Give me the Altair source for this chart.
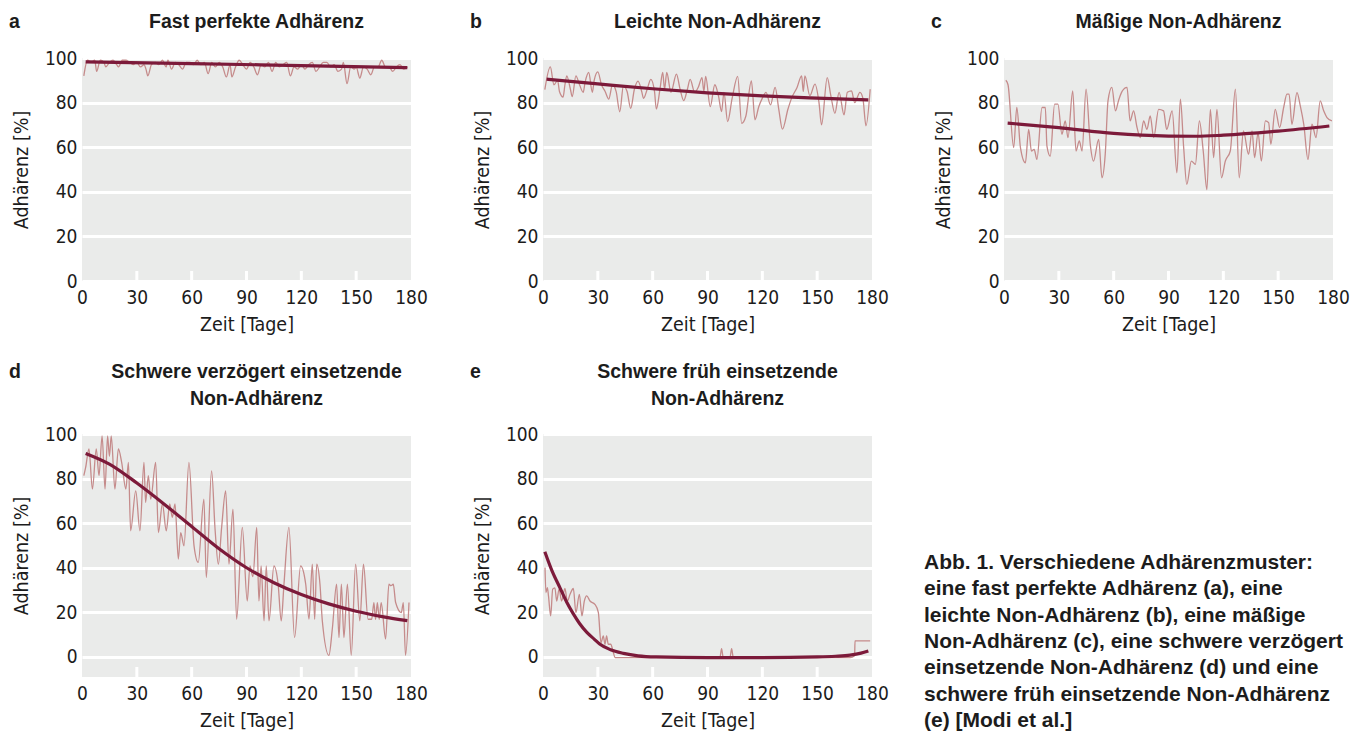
import altair as alt
import pandas as pd

# ---------------- data ----------------
X_TICKS = [0, 30, 60, 90, 120, 150, 180]
INNER_TICKS = [30, 60, 90, 120, 150]
Y_TICKS = [0, 20, 40, 60, 80, 100]

LETTERS = ["a", "b", "c", "d", "e"]
TITLES = [
    "Fast perfekte Adhärenz",
    "Leichte Non-Adhärenz",
    "Mäßige Non-Adhärenz",
    "Schwere verzögert einsetzende\nNon-Adhärenz",
    "Schwere früh einsetzende\nNon-Adhärenz",
]
CAPTION = ("Abb. 1. Verschiedene Adhärenzmuster:\n"
           "eine fast perfekte Adhärenz (a), eine\n"
           "leichte Non-Adhärenz (b), eine mäßige\n"
           "Non-Adhärenz (c), eine schwere verzögert\n"
           "einsetzende Non-Adhärenz (d) und eine\n"
           "schwere früh einsetzende Non-Adhärenz\n"
           "(e) [Modi et al.]")

A_DAYS = [1, 3, 5, 7, 8, 10, 12, 13, 15, 17, 19, 20, 22, 24, 26, 28, 30, 32, 34, 35,
          36, 38, 40, 42, 44, 46, 47, 49, 51, 53, 55, 57, 59, 61, 63, 65, 67, 69, 71, 73,
          75, 77, 79, 81, 82, 84, 86, 88, 90, 92, 94, 96, 98, 100, 102, 104, 106, 108, 110, 112,
          114, 116, 118, 120, 122, 124, 126, 128, 130, 132, 134, 136, 138, 140, 142, 143, 145, 147, 149, 150,
          152, 154, 156, 158, 160, 162, 164, 166, 168, 170, 172, 174, 176, 178]
A_VALS = [92, 99, 98, 99, 94, 99, 98, 96, 98, 99, 97, 96, 99, 99, 98, 97, 98, 96, 97, 95,
          92, 97, 98, 97, 99, 96, 99, 95, 98, 97, 95, 98, 98, 97, 99, 97, 98, 93, 98, 96,
          98, 96, 91.5, 97, 91.5, 96, 99, 97, 95, 98, 96, 92.5, 97, 96, 98, 94, 98, 96, 97, 98,
          92, 96, 95, 97, 95, 97, 98, 94, 96, 98, 98, 96, 97, 94, 95, 98, 88.5, 96, 95, 96,
          91, 96, 95, 92.5, 96, 96, 99, 96, 96, 94, 96, 97, 95, 96]

B_POINTS = [(1, 85.8), (4, 96), (6, 88), (8, 90), (9, 85), (11, 82.5), (12, 88), (13, 92), (15, 86),
            (16, 82.7), (18, 92), (20, 88), (22, 84.6), (23, 89), (25, 93.5), (27, 84.6), (28, 90),
            (30, 93.8), (32, 88), (34, 85), (36, 81.6), (38, 88), (40, 85), (42, 75.9), (44, 87.5),
            (46, 85), (48, 77.4), (50, 86), (52, 89.6), (54, 85), (55, 81.9), (57, 86), (59, 90.4),
            (61, 85), (62, 77.1), (64, 86), (65.5, 93.5), (66.5, 86), (67.7, 93.5), (70, 84.6),
            (73, 92.8), (75, 86), (77, 80.9), (79, 86), (80.5, 90.4), (83, 84.6), (85, 87), (87, 91.2),
            (88, 85), (89, 91.8), (91.5, 78.2), (94, 88), (96, 83), (97.7, 76), (99, 84.6), (101, 71.5),
            (103.5, 82), (106.5, 91.8), (108.7, 70.7), (111, 74), (114, 89.7), (116, 72.3), (118, 78),
            (120, 82), (122, 84.6), (124.5, 79), (127, 86.8), (129, 77), (131, 68.1), (134, 77),
            (136, 82), (139, 86.8), (141.5, 92), (142.4, 85), (143.3, 92), (146, 83.1), (148.8, 88.3),
            (151, 80), (152.4, 70), (155.5, 91.2), (157.5, 83), (159.7, 75.2), (162, 84.6),
            (164.7, 74.5), (166.5, 84.6), (168.8, 85.3), (170.5, 80), (173.4, 84.6), (175, 82),
            (176.7, 69.6), (179, 86)]

C_POINTS = [(1, 90), (2.2, 88), (5.3, 59.8), (7, 77.8), (9, 59.8), (11.7, 53), (13.5, 68), (15, 58.3),
            (16.5, 59), (18, 54.5), (20.8, 77.8), (22.6, 77.8), (23.5, 60.5), (25.3, 56), (27.7, 79.3),
            (29.5, 79.3), (31.7, 65.8), (33.5, 71.8), (35, 64.3), (37.6, 85.3), (39.4, 58.3),
            (41.2, 62.8), (42.7, 58.3), (44.9, 86), (47.2, 61.3), (49, 53.8), (51.8, 63.5),
            (53.6, 46.3), (55.4, 57), (56.9, 80.8), (59, 86.8), (61, 76.3), (62.7, 81), (64.6, 85),
            (67.3, 86.8), (69, 71.8), (70.9, 76.3), (72.8, 68.8), (74.6, 64.3), (76.4, 71.8),
            (78.2, 68), (80, 74), (81.9, 64.3), (84.6, 77), (87.3, 76.3), (89, 68), (92, 76.3),
            (94.6, 48.5), (96.5, 81.5), (98.3, 59.8), (100, 43.3), (102.5, 53.8), (104.7, 52.3),
            (106.9, 71.8), (109, 58.3), (111, 41), (112.9, 77), (114.7, 55.3), (116.5, 77),
            (119, 46.3), (121.1, 53.8), (123.8, 58.3), (126.6, 86), (128.7, 46.3), (131, 67.3),
            (133.8, 56.8), (135.7, 67.3), (137.1, 55.3), (139, 66.5), (140.8, 53.8), (143, 71.8),
            (144.8, 71), (146, 61.3), (148.4, 77), (150.8, 68.8), (153, 77.8), (154.8, 83.8),
            (156, 83.8), (157.5, 70.3), (160.3, 84.5), (162.1, 78.5), (164, 70.3), (166.3, 54.5),
            (168.5, 70.3), (170.7, 64.3), (173, 80.8), (174.9, 76.3), (176.7, 73.3), (179.4, 71.8)]

D_POINTS = [(1, 81.3), (2, 85), (3.8, 93.3), (5.7, 75.3), (7.8, 93.3), (9.3, 81.3), (11, 99.2),
            (12.6, 75.3), (14, 99.2), (15, 90), (16, 99.2), (18, 75.3), (19.9, 93.3), (21.7, 87.3),
            (24, 75.3), (25.4, 87.3), (26.6, 56.6), (29.4, 74.5), (31.7, 56.6), (33.9, 87.3),
            (34.8, 69.3), (36.3, 81.3), (37.6, 70.8), (40.3, 87.3), (41.8, 55.8), (44, 68.6),
            (46.1, 56.6), (48, 68.6), (49.4, 62.6), (50.9, 68.6), (52.7, 43.9), (54, 55.8),
            (55.8, 49.8), (58.5, 87.3), (61.3, 49.8), (63.6, 42.4), (66.7, 70.8), (68, 35.6),
            (70.9, 83.5), (72.8, 57.3), (74.6, 41.6), (76.4, 58.1), (78.6, 74.5), (80.4, 41.6),
            (82.6, 66.3), (84.6, 16.9), (87.7, 58.1), (90.4, 25.1), (91.9, 40.8), (93.5, 36),
            (95.6, 58.1), (96.8, 25.1), (98, 40.8), (99.6, 16.2), (100.8, 40.8), (102.3, 16.2),
            (105, 40.8), (107.3, 32.6), (109, 16.2), (110.5, 32.6), (113.2, 58.1), (116.3, 8.7),
            (119.6, 40.8), (122.4, 32.6), (124.2, 17), (126, 41.6), (127.3, 16.9), (128.4, 41.6),
            (130.2, 32.6), (131.5, 16), (135.1, 0.7), (137, 13), (139.3, 32.6), (140.6, 8.7),
            (141.9, 32.6), (143.3, 8.7), (145.2, 32.6), (147.3, 0.7), (149.7, 41.6), (152, 16.2),
            (154, 41.6), (156.5, 16.9), (158.5, 16.9), (159.7, 24.4), (160.6, 16.9), (161.6, 24.4),
            (162.6, 16.9), (163.7, 24.4), (166.1, 8), (167.9, 32.6), (169, 32), (170.3, 32.6),
            (171.6, 24.4), (174.7, 19.9), (175.8, 24.4), (177, 0.7), (178.9, 24.4)]

E_POINTS = [(1.1, 40.1), (1.6, 28.9), (2.4, 31.1), (3, 27.4), (4.2, 18.4), (5.3, 30.4), (6.5, 31),
            (7.5, 25.1), (8.8, 30.4), (10.2, 25.1), (12, 30.7), (13.3, 25), (14.8, 28.1), (16.6, 30.7),
            (18, 19.9), (19.9, 28.1), (21.3, 18.4), (22.6, 25), (23.9, 27.4), (25.7, 25.1),
            (28.4, 23.6), (30.3, 19.9), (31.7, 6.4), (33, 9.4), (33.9, 5.7), (34.8, 9.4), (35.7, 5.7),
            (37, 5.7), (38.5, 2), (39.4, -0.3), (60, -0.3), (96.8, -0.3), (97.7, 3.7), (98.6, -0.3),
            (102.3, -0.3), (103.2, 3.7), (104.1, -0.3), (168, -0.3), (170.5, 0.5), (170.7, 7.2),
            (179, 7.2)]

TREND_A = [(2, 98.3), (60, 97.5), (120, 96.6), (178, 95.7)]
TREND_B = [(2, 90.5), (30, 88.4), (60, 86.2), (90, 84.4), (120, 83.0), (150, 82.0), (178, 81.2)]
TREND_C = [(2, 70.8), (30, 68.8), (60, 66.2), (90, 65.0), (105, 64.9), (120, 65.4), (150, 67.2),
           (178, 69.5)]
TREND_D = [(2, 91.3), (15, 86.5), (30, 78), (45, 68.5), (60, 58.5), (75, 48.5), (90, 40),
           (105, 33.3), (120, 28), (135, 23.8), (150, 20.5), (165, 18), (178, 16.3)]
TREND_E = [(1, 47.2), (5, 38.5), (9.3, 31), (13, 24.5), (16.6, 19.3), (20, 15), (24, 11), (28, 8),
           (31, 5.8), (37, 3.2), (44, 1.6), (52, 0.5), (62, 0), (90, -0.3), (120, -0.3), (150, 0),
           (160, 0.3), (168, 0.8), (174, 1.7), (178, 2.7)]

# ---------------- styling ----------------
FONT = "Liberation Sans Narrow, DejaVu Sans Condensed, Roboto, sans-serif"
BOLD = "Liberation Sans, Arial, sans-serif"
TEXT = "#1c1c1c"
BG = "#eaebea"
NOISE = "#c58b8b"
TREND = "#7c1a3a"
W = 329


def panel(i, noise, trend, ymin, height, title_y, caption=False):
    nd = pd.DataFrame(noise, columns=["tag", "wert"])
    td = pd.DataFrame(trend, columns=["tag", "wert"])
    xs = alt.Scale(domain=[0, 180], nice=False, zero=False)
    ys = alt.Scale(domain=[ymin, 100], nice=False, zero=False)
    xaxis = alt.Axis(values=X_TICKS, title="Zeit [Tage]", grid=False, ticks=False, tickSize=0,
                     domain=False, labelFlush=False, labelPadding=7, labelAngle=0,
                     titleX=W / 2, titleY=49, titleAlign="center", titleBaseline="alphabetic")
    yaxis = alt.Axis(values=Y_TICKS, title="Adhärenz [%]", grid=True, gridColor="white",
                     gridWidth=3, gridOpacity=1, ticks=False, tickSize=0, domain=False,
                     labelFlush=False, labelPadding=5, titleX=-55, titleY=height / 2,
                     titleAngle=270, titleAlign="center", titleBaseline="alphabetic")
    noise_line = alt.Chart(nd).mark_line(color=NOISE, strokeWidth=1.3, interpolate="monotone").encode(
        x=alt.X("tag:Q", scale=xs, axis=xaxis),
        y=alt.Y("wert:Q", scale=ys, axis=yaxis),
    )
    ticks = alt.Chart(pd.DataFrame({"tag": INNER_TICKS})).mark_rule(color="white", strokeWidth=3).encode(
        x=alt.X("tag:Q"), y=alt.value(height - 10), y2=alt.value(height)
    )
    trend_line = alt.Chart(td).mark_line(color=TREND, strokeWidth=3.2, interpolate="monotone").encode(
        x="tag:Q", y="wert:Q"
    )
    letter = alt.Chart(pd.DataFrame({"t": [LETTERS[i]]})).mark_text(
        align="left", baseline="alphabetic", font=BOLD, fontSize=19.5, fontWeight="bold", color=TEXT
    ).encode(text="t:N", x=alt.value(-73), y=alt.value(title_y))
    title = alt.Chart(pd.DataFrame({"t": [TITLES[i]]})).mark_text(
        align="center", baseline="top", font=BOLD, fontSize=19.5, fontWeight="bold", color=TEXT,
        lineBreak="\n", lineHeight=27
    ).encode(text="t:N", x=alt.value(W / 2 + 10), y=alt.value(title_y - 15))
    layers = [noise_line, ticks, trend_line, letter, title]
    if caption:
        cap = alt.Chart(pd.DataFrame({"t": [CAPTION]})).mark_text(
            align="left", baseline="top", font=BOLD, fontSize=21, fontWeight="bold", color=TEXT,
            lineBreak="\n", lineHeight=26.3
        ).encode(text="t:N", x=alt.value(381), y=alt.value(118))
        layers.append(cap)
    return alt.layer(*layers).properties(width=W, height=height)


pa = panel(0, list(zip(A_DAYS, A_VALS)), TREND_A, 0, 223, -30)
pb = panel(1, B_POINTS, TREND_B, 0, 223, -30)
pc = panel(2, C_POINTS, TREND_C, 0, 223, -30)
pd_ = panel(3, D_POINTS, TREND_D, -9, 243, -56)
pe = panel(4, E_POINTS, TREND_E, -9, 243, -56, caption=True)

chart = alt.concat(
    pa, pb, pc, pd_, pe, columns=3, spacing={"row": 153, "column": 132}, bounds="flush"
).properties(
    padding={"left": 1, "top": 4, "right": 0, "bottom": 0}
).configure_view(
    fill=BG, strokeWidth=0
).configure_axis(
    labelFont=FONT, labelFontSize=19, labelColor=TEXT,
    titleFont=FONT, titleFontSize=19.5, titleFontWeight="normal", titleColor=TEXT,
)

chart.save("out.html", embed_options={"renderer": "svg", "actions": False})
